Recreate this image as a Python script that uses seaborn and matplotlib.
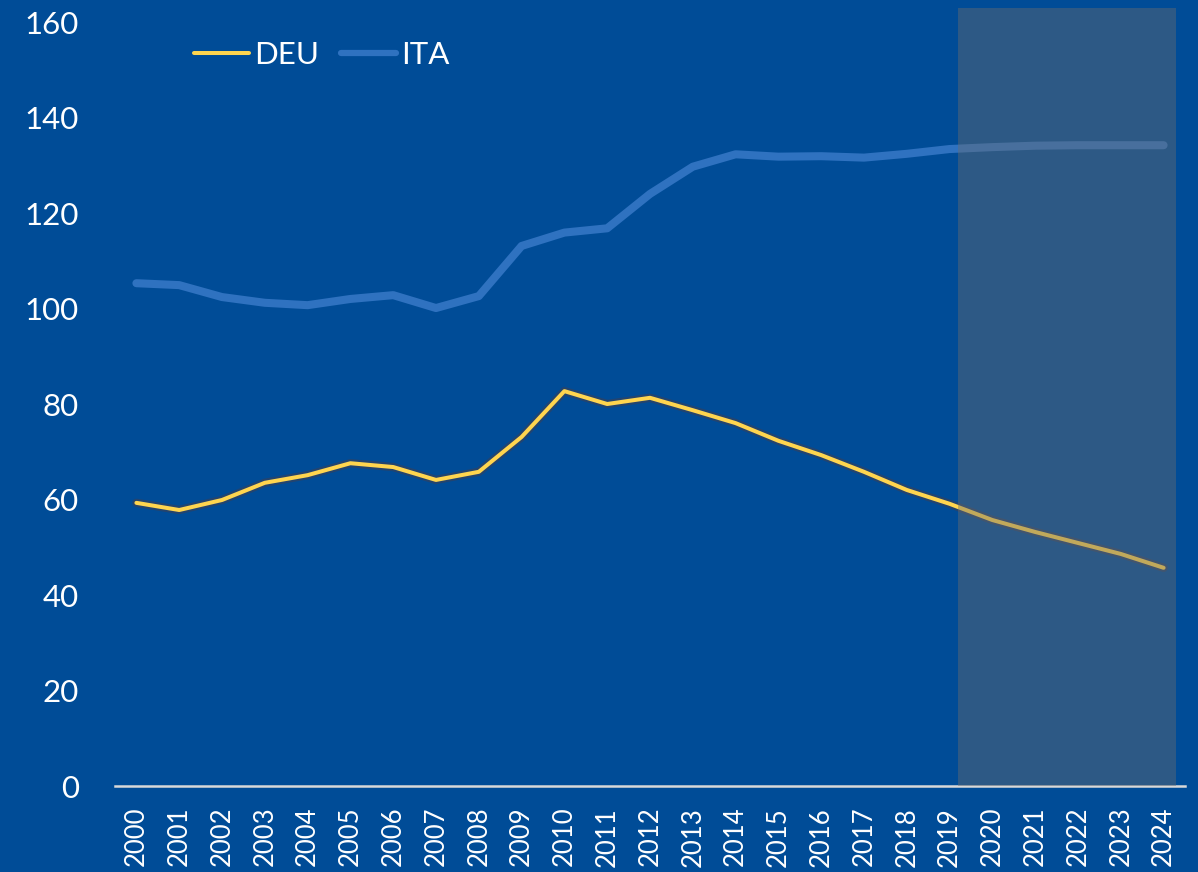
import numpy as np
import pandas as pd
import seaborn as sns
import matplotlib
matplotlib.use("Agg")
import matplotlib.pyplot as plt
import matplotlib.patheffects as pe
from matplotlib.lines import Line2D

# ---- data ----
years = list(range(2000, 2025))
deu = [59.3, 57.8, 59.9, 63.5, 65.1, 67.6, 66.8, 64.1, 65.8, 73.1,
       82.7, 80.0, 81.3, 78.7, 76.0, 72.3, 69.3, 65.8, 62.0, 59.1,
       55.7, 53.2, 50.9, 48.6, 45.7]
ita = [105.3, 104.9, 102.4, 101.2, 100.7, 102.0, 102.8, 100.1, 102.6, 113.1,
       115.9, 116.8, 124.0, 129.7, 132.3, 131.8, 131.9, 131.6, 132.4, 133.4,
       133.8, 134.1, 134.2, 134.2, 134.2]
series_names = ["DEU", "ITA"]
y_ticks = [0, 20, 40, 60, 80, 100, 120, 140, 160]
shade_start, shade_end = 2019.2, 2024.3   # projection period

# ---- style ----
BG = "#004C97"
YELLOW = "#FFD54F"
BLUE = "#2F72C0"
WHITE = "#FFFFFF"

sns.set_style("white")
plt.rcParams["font.family"] = ["Lato", "DejaVu Sans"]

df = pd.DataFrame({"year": years * 2,
                   "value": deu + ita,
                   "country": [series_names[0]] * len(years) + [series_names[1]] * len(years)})

fig = plt.figure(figsize=(11.98, 8.72), dpi=100, facecolor=BG)
ax = fig.add_axes([115 / 1198, 86 / 872, 1070 / 1198, 778.3 / 872])
ax.set_facecolor(BG)

sns.lineplot(data=df[df.country == "ITA"], x="year", y="value", color=BLUE,
             linewidth=5.8, ax=ax, zorder=2, solid_capstyle="round", solid_joinstyle="round")
sns.lineplot(data=df[df.country == "DEU"], x="year", y="value", color=YELLOW,
             linewidth=2.9, ax=ax, zorder=3, solid_capstyle="round", solid_joinstyle="round")
ax.lines[-1].set_path_effects([pe.Stroke(linewidth=6.0, foreground="#3b3f55", alpha=0.6), pe.Normal()])

ax.axvspan(shade_start, shade_end, ymin=0, ymax=1, facecolor="#6D6D6D", alpha=0.42,
           edgecolor="none", zorder=10)

ax.set_xlim(1999.5, 2024.5)
ax.set_ylim(0, 163)
ax.set_yticks(y_ticks)
ax.set_yticklabels([str(t) for t in y_ticks], fontsize=22.5, color=WHITE)
ax.set_xticks(years)
ax.set_xticklabels([str(y) for y in years], rotation=90, fontsize=18.5, color=WHITE,
                   va="top", ha="center")
ax.tick_params(axis="y", length=0, pad=26)
ax.tick_params(axis="x", length=0, pad=15)
ax.set_xlabel("")
ax.set_ylabel("")

for s in ["top", "right", "left"]:
    ax.spines[s].set_visible(False)
ax.spines["bottom"].set_color("#D9D9D9")
ax.spines["bottom"].set_linewidth(1.8)
ax.spines["bottom"].set_zorder(4)

handles = [Line2D([0], [0], color=YELLOW, lw=2.9, solid_capstyle="round"),
           Line2D([0], [0], color=BLUE, lw=4.5, solid_capstyle="round")]
leg = fig.legend(handles, series_names, loc="center left", bbox_to_anchor=(194 / 1198, 1 - 55 / 872),
                 ncol=2, frameon=False, fontsize=22.5, handlelength=1.75, handletextpad=0.18,
                 columnspacing=0.7, borderaxespad=0, borderpad=0)
for t in leg.get_texts():
    t.set_color(WHITE)

fig.savefig("out.png", dpi=100, facecolor=BG)
